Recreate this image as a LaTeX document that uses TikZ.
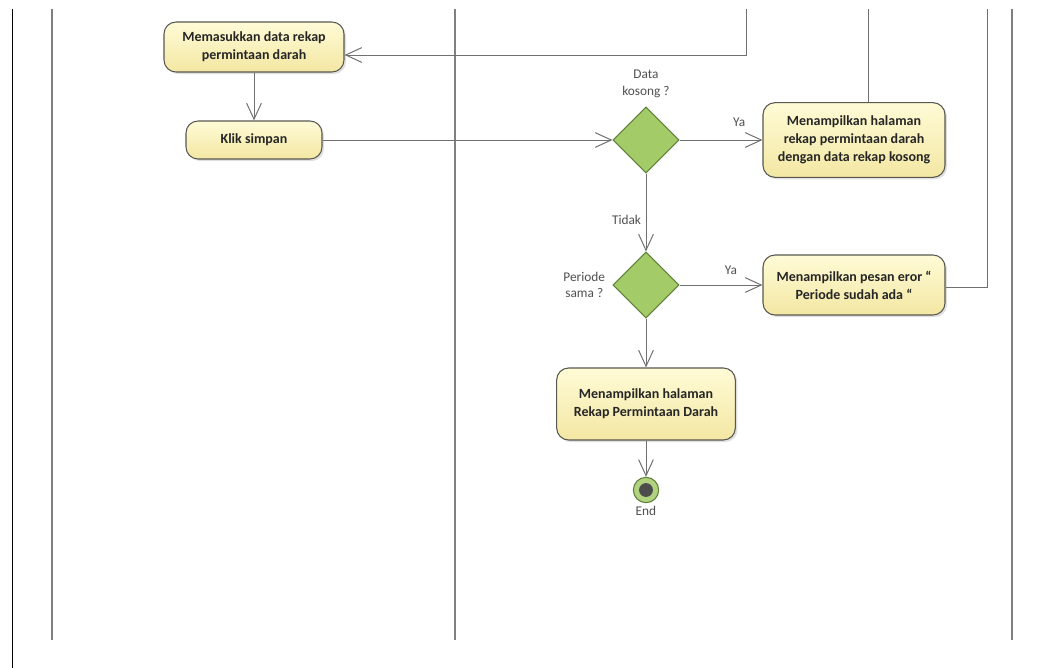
\documentclass[tikz,border=0pt]{standalone}
\usepackage{fontspec}
\setmainfont{Carlito}
\usetikzlibrary{arrows.meta,positioning,shapes.geometric,shadows}

\definecolor{boxtop}{RGB}{255,251,214}
\definecolor{boxbot}{RGB}{243,231,163}
\definecolor{boxline}{RGB}{88,88,80}
\definecolor{decfill}{RGB}{163,203,104}
\definecolor{decline}{RGB}{96,128,58}
\definecolor{wire}{RGB}{112,112,112}
\definecolor{lanegray}{RGB}{128,128,128}
\definecolor{labgray}{RGB}{80,80,80}

\begin{document}
\begin{tikzpicture}[x=0.75pt,y=-0.75pt, font=\fontsize{10}{12.5}\selectfont,
act/.style={draw=boxline,rounded corners=9pt,align=center,inner sep=2pt,
  font=\bfseries\fontsize{10.5}{13.5}\selectfont,text=black!85,
  top color=boxtop,bottom color=boxbot,line width=0.8pt,
  drop shadow={shadow xshift=1.5pt,shadow yshift=-1.5pt,opacity=0.25}},
dec/.style={diamond,draw=decline,fill=decfill,minimum width=49.5pt,minimum height=49.5pt,inner sep=0pt,line width=0.8pt},
final/.style={circle,draw=decline,fill=decfill!85,minimum size=19pt,inner sep=0pt,line width=0.8pt,
  path picture={\fill[black!70] (path picture bounding box.center) circle (5.2pt);}},
lab/.style={text=labgray,align=center},
arr/.style={-{Straight Barb[length=12pt,width=11pt]},draw=wire,line width=0.75pt},
wireline/.style={draw=wire,line width=0.75pt},
lane/.style={draw=lanegray,line width=1.6pt}]
\useasboundingbox (0,0) rectangle (1051,668);
% swimlane borders
\draw[line width=0.6pt] (12,9) -- (12,668);
\draw[lane] (52,9) -- (52,640);
\draw[lane] (455,9) -- (455,640);
\draw[lane] (1012,9) -- (1012,640);
% actions
\node[act,minimum width=135pt,minimum height=37.5pt] (input) at (254,47) {Memasukkan data rekap\\permintaan darah};
\node[act,minimum width=102pt,minimum height=28.5pt] (save) at (254,140) {Klik simpan};
\node[dec] (empty) at (646,140) {};
\node[lab,above=3pt of empty] {Data\\kosong ?};
\node[act,minimum width=136.5pt,minimum height=56pt] (showempty) at (854,140) {Menampilkan halaman\\rekap permintaan darah\\dengan data rekap kosong};
\node[dec] (same) at (646,285) {};
\node[lab,left=2pt of same] {Periode\\sama ?};
\node[act,minimum width=136.5pt,minimum height=45pt] (error) at (854,285) {Menampilkan pesan eror ``\\Periode sudah ada ``};
\node[act,minimum width=134pt,minimum height=54pt] (list) at (646,404) {Menampilkan halaman\\Rekap Permintaan Darah};
\node[final,label={[lab,inner sep=2pt]below:End}] (end) at (646,490) {};
% flows
\coordinate (back) at (746,9);
\coordinate (up1) at (868,9);
\coordinate (up2) at (987,9);
\draw[arr] (back) |- ([yshift=-6pt]input.east);
\draw[arr] (input) -- (save);
\draw[arr] (save) -- (empty);
\draw[arr] (empty) -- node[lab,above=6pt,pos=0.72] {Ya} (showempty);
\draw[arr] (empty) -- node[lab,left,pos=0.6] {Tidak} (same);
\draw[arr] (same) -- node[lab,above=4pt,pos=0.62] {Ya} (error);
\draw[arr] (same) -- (list);
\draw[arr] (list) -- (end);
\draw[wireline] (up1) -- (up1 |- showempty.north);
\draw[wireline] ([yshift=-2pt]error.east) -| (up2);
\end{tikzpicture}
\end{document}
